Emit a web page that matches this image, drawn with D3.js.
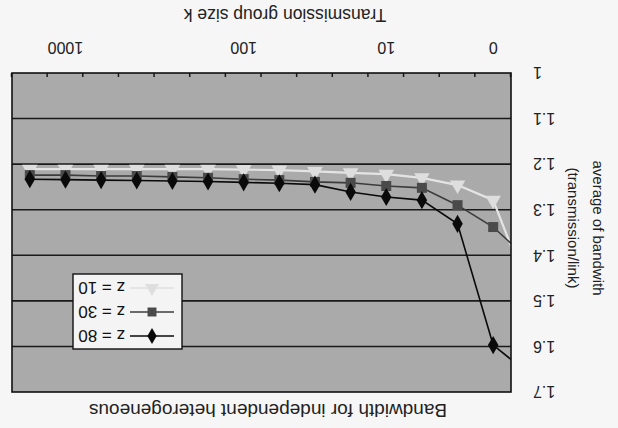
<!DOCTYPE html>
<html><head><meta charset="utf-8">
<script src="https://cdn.jsdelivr.net/npm/d3@7"></script>
<style>
html,body{margin:0;padding:0;background:#f6f6f6;}
svg{display:block;font-family:"Liberation Sans",Arial,sans-serif;}
</style></head>
<body>
<svg id="chart" width="618" height="428"></svg>
<script>
// Category labels of the x axis (14 visible categories)
const categoryLabels = ["0","","","10","","","","100","","","","","1000",""];
// Series values; the first entry lies one category before the axis start (clipped by the plot area)
const seriesNames = ["z = 80","z = 30","z = 10"];
const z80 = [1.66,1.597,1.331,1.279,1.272,1.261,1.245,1.242,1.240,1.238,1.237,1.236,1.235,1.234,1.233];
const z30 = [1.41,1.338,1.290,1.252,1.248,1.241,1.239,1.235,1.233,1.230,1.228,1.226,1.226,1.224,1.224];
const z10 = [1.48,1.279,1.246,1.230,1.222,1.219,1.216,1.213,1.212,1.211,1.211,1.211,1.211,1.211,1.211];
const yTicks = [1,1.1,1.2,1.3,1.4,1.5,1.6,1.7];

const W = 618, H = 428;
const plot = {left:107, right:606, top:36, bottom:355};
const svg = d3.select("#chart");
const root = svg.append("g").attr("transform", `rotate(180 ${W/2} ${H/2})`);

const x = d3.scaleLinear().domain([-0.5, categoryLabels.length - 0.5]).range([plot.left, plot.right]);
const y = d3.scaleLinear().domain([1, 1.7]).range([plot.bottom, plot.top]);

// plot background
root.append("rect").attr("x",plot.left).attr("y",plot.top)
  .attr("width",plot.right-plot.left).attr("height",plot.bottom-plot.top)
  .attr("fill","#aaaaaa");

// gridlines
root.append("g").selectAll("line").data(yTicks.slice(1,-1)).join("line")
  .attr("x1",plot.left).attr("x2",plot.right)
  .attr("y1",d=>y(d)).attr("y2",d=>y(d))
  .attr("stroke","#1a1a1a").attr("stroke-width",1.6);

// y tick labels
root.append("g").selectAll("text").data(yTicks).join("text")
  .attr("x",plot.left-22).attr("y",d=>y(d)).attr("dy","0.36em")
  .attr("text-anchor","end").attr("font-size",16).attr("fill","#222")
  .text(d=>d===1?"1":d3.format(".1f")(d));

// x axis ticks (between categories, pointing into the plot)
const xAxis = d3.axisBottom(x)
  .tickValues(d3.range(0, categoryLabels.length+1).map(i=>i-0.5))
  .tickSizeInner(-4).tickSizeOuter(0).tickFormat("");
const xg = root.append("g").attr("transform",`translate(0,${plot.bottom})`).call(xAxis);
xg.select(".domain").remove();
xg.selectAll(".tick line").attr("stroke","#1a1a1a").attr("stroke-width",1.5);

// x tick labels
root.append("g").selectAll("text").data(categoryLabels.map((l,i)=>({l,i})).filter(d=>d.l!=="")).join("text")
  .attr("x",d=>x(d.i)).attr("y",plot.bottom+31)
  .attr("text-anchor","middle").attr("font-size",16).attr("fill","#222")
  .text(d=>d.l);

// clip
svg.append("defs").append("clipPath").attr("id","clip").append("rect")
  .attr("x",plot.left).attr("y",plot.top).attr("width",plot.right-plot.left).attr("height",plot.bottom-plot.top);

const series = [
  {name:seriesNames[2], values:z10, color:"#e4e4e4", marker:"triangle", mcolor:"#dedede", width:2.2},
  {name:seriesNames[1], values:z30, color:"#3c3c3c", marker:"square", mcolor:"#4a4a4a", width:1.6},
  {name:seriesNames[0], values:z80, color:"#0a0a0a", marker:"diamond", mcolor:"#0a0a0a", width:1.6}
];
const symbolOf = {triangle:d3.symbolTriangle, square:d3.symbolSquare, diamond:d3.symbolDiamond};
const sizeOf = {triangle:105, square:100, diamond:95};

const line = d3.line().x((d,i)=>x(i-1)).y(d=>y(d));
const pg = root.append("g").attr("clip-path","url(#clip)");
series.forEach(s=>{
  pg.append("path").datum(s.values).attr("d",line)
    .attr("fill","none").attr("stroke",s.color).attr("stroke-width",s.width);
});
series.forEach(s=>{
  pg.append("g").selectAll("path").data(s.values).join("path")
    .attr("transform",(d,i)=>`translate(${x(i-1)},${y(d)})`)
    .attr("d",d3.symbol().type(symbolOf[s.marker]).size(sizeOf[s.marker]))
    .attr("fill",s.mcolor);
});

// plot border
root.append("rect").attr("x",plot.left).attr("y",plot.top)
  .attr("width",plot.right-plot.left).attr("height",plot.bottom-plot.top)
  .attr("fill","none").attr("stroke","#111").attr("stroke-width",1.6);

// legend
const lg = root.append("g").attr("transform","translate(436,79)");
lg.append("rect").attr("width",109).attr("height",75).attr("fill","#f4f4f4").attr("stroke","#111").attr("stroke-width",1.4);
const legendOrder = [series[2], series[1], series[0]];
legendOrder.forEach((s,k)=>{
  const yy = 13 + k*24;
  lg.append("line").attr("x1",8).attr("x2",52).attr("y1",yy).attr("y2",yy)
    .attr("stroke",s.color).attr("stroke-width",s.width);
  lg.append("path").attr("transform",`translate(30,${yy})`)
    .attr("d",d3.symbol().type(symbolOf[s.marker]).size(sizeOf[s.marker]*0.8)).attr("fill",s.mcolor);
  lg.append("text").attr("x",57).attr("y",yy).attr("dy","0.36em")
    .attr("font-size",17).attr("fill","#111").text(s.name);
});

// titles
root.append("text").attr("x",350).attr("y",24).attr("text-anchor","middle")
  .attr("font-size",19).attr("fill","#222").text("Bandwidth for independent heterogeneous");
root.append("text").attr("x",333).attr("y",419).attr("text-anchor","middle")
  .attr("font-size",17.5).attr("fill","#222").text("Transmission group size k");
const yt = root.append("text").attr("transform","translate(0,200) rotate(-90)")
  .attr("text-anchor","middle").attr("font-size",15).attr("fill","#222");
yt.append("tspan").attr("x",0).attr("y",25).text("average of bandwith");
yt.append("tspan").attr("x",0).attr("y",50).text("(transmission/link)");
</script>
</body></html>
